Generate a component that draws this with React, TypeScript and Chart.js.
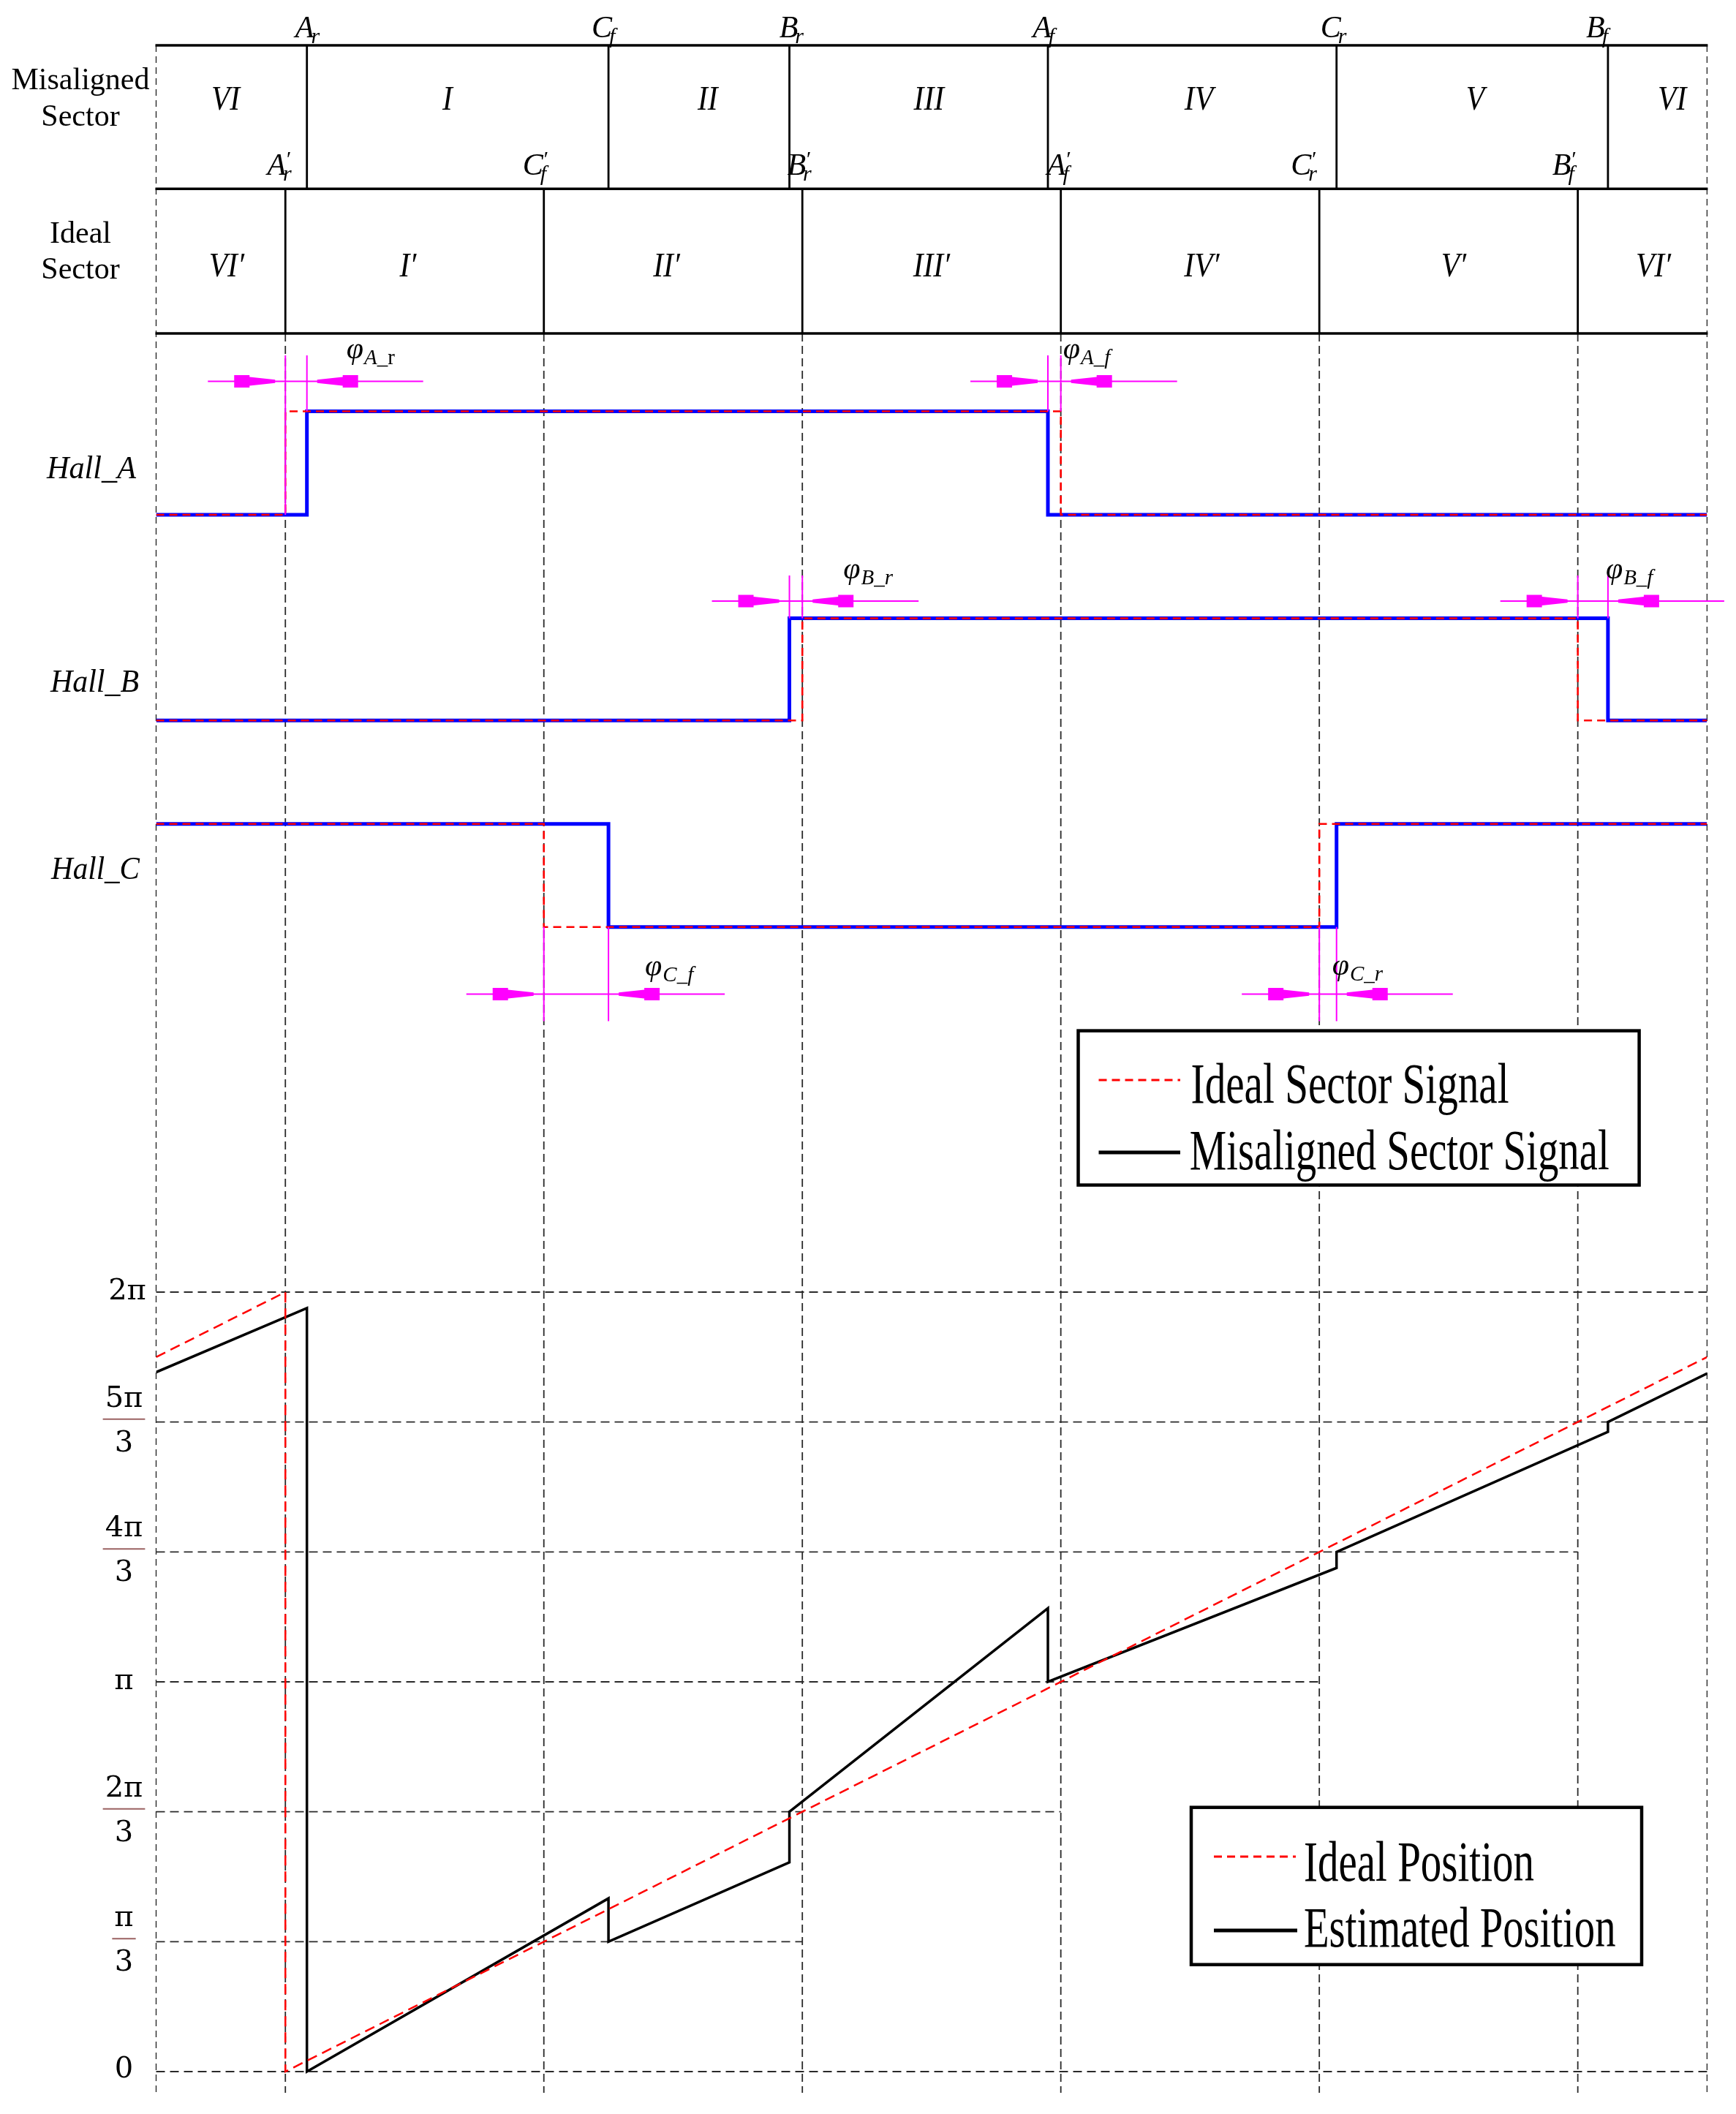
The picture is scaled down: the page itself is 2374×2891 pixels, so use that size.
import React, { useEffect, useRef } from 'react';
import { Chart, registerables } from 'chart.js';

Chart.register(...registerables);

const CANVAS_W = 2374;
const CANVAS_H = 2891;

// ---------------- data ----------------
const X_MIN = -30; // electrical angle (deg)
const X_MAX = 330;
const IDEAL_EDGES = [0, 60, 120, 180, 240, 300];
const MISALIGNED_EDGES = [5, 75, 117, 177, 244, 307];
const EDGE_LETTERS = ['A', 'C', 'B', 'A', 'C', 'B'];
const EDGE_SUBS = ['r', 'f', 'r', 'f', 'r', 'f'];
const MISALIGNED_SECTORS = ['VI', 'I', 'II', 'III', 'IV', 'V', 'VI'];
const IDEAL_SECTORS = ['VI′', 'I′', 'II′', 'III′', 'IV′', 'V′', 'VI′'];
const HALL_NAMES = ['Hall_A', 'Hall_B', 'Hall_C'];
const HALL_TOGGLES = [[0, 3], [2, 5], [1, 4]];
const HALL_INITIAL = [0, 0, 1];
const PHASE_HALL = [0, 0, 1, 1, 2, 2];
const PHASE_EDGE = [0, 3, 2, 5, 1, 4];
const PHASE_SUBS = ['A_r', 'A_f', 'B_r', 'B_f', 'C_f', 'C_r'];
const IDEAL_POS_X = [-30, 0, 0, 330];
const IDEAL_POS_Y = [330, 360, 0, 330];
const EST_POS_X = [-30, 5, 5, 75, 75, 117, 117, 177, 177, 244, 244, 307, 307, 330];
const EST_POS_Y = [323, 352.6, 0, 80, 60, 96.6, 120, 214, 180, 232.6, 240, 295.5, 300, 322.4];
const POS_TICKS = [0, 60, 120, 180, 240, 300, 360];
const POS_TICK_NUM = ['0', 'π', '2π', 'π', '4π', '5π', '2π'];
const POS_TICK_DEN = ['', '3', '3', '', '3', '3', ''];
const POS_GRID_END = [330, 120, 180, 240, 300, 330, 330];
const LEGEND_SECTOR = ['Ideal Sector Signal', 'Misaligned Sector Signal'];
const LEGEND_POSITION = ['Ideal Position', 'Estimated Position'];

// ---------------- layout (pixels) ----------------
const L = {
  left: 213.5,
  right: 2334.4,
  tableTop: 62,
  tableMid: 258.3,
  tableBottom: 456,
  gridBottom: 2862,
  lanes: [[704, 562.5], [985.3, 845.6], [1267.7, 1126.7]], // [low, high]
  pos0: 2833,
  pos360: 1767,
  headerX: 110,
  topNumBase: 150,
  botNumBase: 377.5,
  topNumNudge: [-8, -14, 12, 14, 9, 4, 20],
  botNumNudge: [8, -9, -9, 0, 16, 7, 15],
  edgeLabelBase: 51,
  edgeLabelNudge: [-3, -9, -1, -8, -8, -17],
  primeLabelBase: 239,
  primeLabelNudge: [-12, -15, -8, -6, -25, -22],
  hallLabelX: [125, 129.5, 130.5],
  hallLabelBase: [654, 946, 1201.7],
  hallLabelW: [122, 121, 121],
  annotLine: [521.5, 822, 1359.5],
  annotExt: [486, 787, 1396.5],
  annotLabelBase: [490, 490, 791, 791, 1334, 1333],
  annotLabelDx: [54, 3, 56, -3, 50, -6],
  tickCx: 169.5,
};

const SERIF = '"Liberation Serif", "Times New Roman", serif';
const MATH = '"DejaVu Serif", "Liberation Serif", serif';
const MAGENTA = '#ff00ff';

function axisRange(p0: number, p1: number, v0: number, v1: number) {
  const k = (p0 - p1) / (v1 - v0);
  const max = v0 + p0 / k;
  return { min: max - CANVAS_H / k, max };
}

function hallPoints(edges: number[], h: number) {
  let lvl = HALL_INITIAL[h];
  const pts = [{ x: X_MIN, y: lvl }];
  for (const i of HALL_TOGGLES[h]) {
    pts.push({ x: edges[i], y: lvl });
    lvl = 1 - lvl;
    pts.push({ x: edges[i], y: lvl });
  }
  pts.push({ x: X_MAX, y: lvl });
  return pts;
}

function seg(ctx: CanvasRenderingContext2D, x1: number, y1: number, x2: number, y2: number) {
  ctx.beginPath();
  ctx.moveTo(x1, y1);
  ctx.lineTo(x2, y2);
  ctx.stroke();
}

function drawText(
  ctx: CanvasRenderingContext2D,
  s: string,
  x: number,
  y: number,
  font: string,
  align: 'left' | 'center' | 'right' = 'left',
  fitW = 0,
  color = '#000',
  scaleX = 1
) {
  ctx.save();
  ctx.font = font;
  ctx.fillStyle = color;
  ctx.textAlign = 'left';
  ctx.textBaseline = 'alphabetic';
  const w = ctx.measureText(s).width;
  const sx = fitW ? fitW / w : scaleX;
  const tw = w * sx;
  const x0 = align === 'center' ? x - tw / 2 : align === 'right' ? x - tw : x;
  ctx.translate(x0, y);
  ctx.scale(sx, 1);
  ctx.fillText(s, 0, 0);
  ctx.restore();
}

function edgeLabel(ctx: CanvasRenderingContext2D, letter: string, sub: string, cx: number, base: number, prime: boolean) {
  ctx.save();
  ctx.fillStyle = '#000';
  ctx.textAlign = 'left';
  ctx.textBaseline = 'alphabetic';
  ctx.font = `italic 42px ${SERIF}`;
  const w = ctx.measureText(letter).width;
  const x0 = cx - w / 2;
  ctx.fillText(letter, x0, base);
  ctx.font = `italic 30px ${SERIF}`;
  if (prime) ctx.fillText('′', x0 + w - 1, base - 12);
  ctx.fillText(sub, x0 + w - 4, base + 8);
  ctx.restore();
}

function drawArrow(ctx: CanvasRenderingContext2D, tipX: number, y: number, dir: number) {
  const pts = [[-56, -8.5], [-35, -8.5], [-35, -6], [0, -2.2], [0, 2.2], [-35, 6], [-35, 8.5], [-56, 8.5]];
  ctx.beginPath();
  pts.forEach(([dx, dy], i) => {
    const X = tipX + dx * dir;
    if (i === 0) ctx.moveTo(X, y + dy);
    else ctx.lineTo(X, y + dy);
  });
  ctx.closePath();
  ctx.fill();
}

function legendBox(
  ctx: CanvasRenderingContext2D,
  box: number[],
  rows: { text: string; dashed: boolean; lineY: number; x1: number; x2: number; tx: number; base: number; w: number }[]
) {
  const [x1, y1, x2, y2] = box;
  ctx.save();
  ctx.fillStyle = '#fff';
  ctx.fillRect(x1, y1, x2 - x1, y2 - y1);
  ctx.strokeStyle = '#000';
  ctx.lineWidth = 4.5;
  ctx.setLineDash([]);
  ctx.strokeRect(x1, y1, x2 - x1, y2 - y1);
  for (const r of rows) {
    if (r.dashed) {
      ctx.strokeStyle = '#ff0000';
      ctx.lineWidth = 3;
      ctx.setLineDash([11, 7]);
    } else {
      ctx.strokeStyle = '#000';
      ctx.lineWidth = 5;
      ctx.setLineDash([]);
    }
    seg(ctx, r.x1, r.lineY, r.x2, r.lineY);
    ctx.setLineDash([]);
    drawText(ctx, r.text, r.tx, r.base, `78px ${SERIF}`, 'left', r.w);
  }
  ctx.restore();
}

const schematicPlugin = {
  id: 'schematic',
  beforeDraw(chart: any) {
    const c = chart.ctx;
    c.save();
    c.fillStyle = '#fff';
    c.fillRect(0, 0, chart.width, chart.height);
    c.restore();
  },
  beforeDatasetsDraw(chart: any) {
    const ctx: CanvasRenderingContext2D = chart.ctx;
    const xs = chart.scales.x;
    const yP = chart.scales.yP;
    const X = (v: number) => xs.getPixelForValue(v);
    const Y = (v: number) => yP.getPixelForValue(v);
    ctx.save();
    ctx.lineCap = 'butt';

    // dashed vertical grid
    ctx.strokeStyle = '#2a2a2a';
    ctx.lineWidth = 1.8;
    ctx.setLineDash([11, 6]);
    IDEAL_EDGES.forEach((e) => seg(ctx, X(e), L.tableBottom, X(e), L.gridBottom));
    ctx.lineWidth = 1.4;
    ctx.setLineDash([9, 6]);
    [X_MIN, X_MAX].forEach((e) => seg(ctx, X(e), L.tableTop, X(e), L.gridBottom));

    // dashed horizontal grid of the position plot
    ctx.lineWidth = 1.8;
    ctx.setLineDash([12, 7]);
    POS_TICKS.forEach((t, i) => seg(ctx, X(X_MIN), Y(t), X(POS_GRID_END[i]), Y(t)));
    ctx.setLineDash([]);

    // sector table
    ctx.strokeStyle = '#000';
    ctx.lineWidth = 3.5;
    [L.tableTop, L.tableMid, L.tableBottom].forEach((y) => seg(ctx, X(X_MIN) - 1, y, X(X_MAX) + 1, y));
    ctx.lineWidth = 2.8;
    MISALIGNED_EDGES.forEach((e) => seg(ctx, X(e), L.tableTop, X(e), L.tableMid));
    IDEAL_EDGES.forEach((e) => seg(ctx, X(e), L.tableMid, X(e), L.tableBottom));

    // row headers
    drawText(ctx, 'Misaligned', L.headerX, 121.7, `42px ${SERIF}`, 'center');
    drawText(ctx, 'Sector', L.headerX, 171.7, `42px ${SERIF}`, 'center');
    drawText(ctx, 'Ideal', L.headerX, 331.7, `42px ${SERIF}`, 'center');
    drawText(ctx, 'Sector', L.headerX, 381, `42px ${SERIF}`, 'center');

    // sector numerals
    const numFont = `italic 46px ${SERIF}`;
    const misB = [X_MIN, ...MISALIGNED_EDGES, X_MAX];
    MISALIGNED_SECTORS.forEach((s, i) => {
      const cx = (X(misB[i]) + X(misB[i + 1])) / 2 + L.topNumNudge[i];
      drawText(ctx, s, cx, L.topNumBase, numFont, 'center', 0, '#000', 0.9);
    });
    const idB = [X_MIN, ...IDEAL_EDGES, X_MAX];
    IDEAL_SECTORS.forEach((s, i) => {
      const cx = (X(idB[i]) + X(idB[i + 1])) / 2 + L.botNumNudge[i];
      drawText(ctx, s, cx, L.botNumBase, numFont, 'center', 0, '#000', 0.9);
    });

    // edge labels
    EDGE_LETTERS.forEach((letter, i) => {
      edgeLabel(ctx, letter, EDGE_SUBS[i], X(MISALIGNED_EDGES[i]) + L.edgeLabelNudge[i], L.edgeLabelBase, false);
      edgeLabel(ctx, letter, EDGE_SUBS[i], X(IDEAL_EDGES[i]) + L.primeLabelNudge[i], L.primeLabelBase, true);
    });

    // hall labels
    HALL_NAMES.forEach((n, i) =>
      drawText(ctx, n, L.hallLabelX[i], L.hallLabelBase[i], `italic 45px ${SERIF}`, 'center', L.hallLabelW[i])
    );

    // position tick labels
    const tf = `40px ${MATH}`;
    POS_TICKS.forEach((t, i) => {
      const y = Y(t);
      const num = POS_TICK_NUM[i];
      if (POS_TICK_DEN[i]) {
        const bar = y - 4;
        ctx.font = tf;
        const w = ctx.measureText(num).width;
        drawText(ctx, num, L.tickCx, bar - 17, tf, 'center');
        drawText(ctx, POS_TICK_DEN[i], L.tickCx, bar + 44, tf, 'center');
        ctx.strokeStyle = '#9a6262';
        ctx.lineWidth = 2;
        seg(ctx, L.tickCx - w / 2 - 3, bar, L.tickCx + w / 2 + 3, bar);
      } else {
        const dx = i === POS_TICKS.length - 1 ? 4.5 : 0;
        drawText(ctx, num, L.tickCx + dx, y + (t === 0 ? 8 : 10), tf, 'center');
      }
    });
    ctx.restore();
  },
  afterDatasetsDraw(chart: any) {
    const ctx: CanvasRenderingContext2D = chart.ctx;
    const xs = chart.scales.x;
    const X = (v: number) => xs.getPixelForValue(v);
    ctx.save();
    ctx.lineCap = 'butt';
    ctx.setLineDash([]);

    // phase-offset annotations
    PHASE_SUBS.forEach((sub, i) => {
      const h = PHASE_HALL[i];
      const e = PHASE_EDGE[i];
      const lane = chart.scales['y' + h];
      const xi = X(IDEAL_EDGES[e]);
      const xm = X(MISALIGNED_EDGES[e]);
      const lo = Math.min(xi, xm);
      const hi = Math.max(xi, xm);
      const ly = L.annotLine[h];
      const ext = L.annotExt[h];
      const yNear = lane.getPixelForValue(h === 2 ? 0 : 1);
      ctx.strokeStyle = MAGENTA;
      ctx.fillStyle = MAGENTA;
      ctx.lineWidth = 2;
      seg(ctx, lo - 106, ly, hi + 159, ly);
      seg(ctx, xm, ext, xm, yNear);
      seg(ctx, xi, ext, xi, i === 0 ? lane.getPixelForValue(0) : yNear);
      drawArrow(ctx, lo - 14, ly, 1);
      drawArrow(ctx, hi + 14, ly, -1);

      const lx = hi + L.annotLabelDx[i];
      const lb = L.annotLabelBase[i];
      ctx.fillStyle = '#000';
      ctx.textAlign = 'left';
      ctx.textBaseline = 'alphabetic';
      ctx.font = `italic 42px ${SERIF}`;
      ctx.fillText('φ', lx, lb);
      let sx = lx + ctx.measureText('φ').width + 1;
      const parts = i === 0 ? [['A_', true], ['r', false]] : [[sub, true]];
      for (const [txt, ital] of parts as [string, boolean][]) {
        ctx.font = `${ital ? 'italic ' : ''}29px ${SERIF}`;
        ctx.fillText(txt, sx, lb + 8);
        sx += ctx.measureText(txt).width;
      }
    });

    // legends
    legendBox(ctx, [1474.5, 1409.6, 2241.6, 1620.6], [
      { text: LEGEND_SECTOR[0], dashed: true, lineY: 1477, x1: 1502.5, x2: 1614, tx: 1628.6, base: 1508, w: 435 },
      { text: LEGEND_SECTOR[1], dashed: false, lineY: 1576, x1: 1502.5, x2: 1614, tx: 1626.7, base: 1599, w: 574 },
    ]);
    legendBox(ctx, [1629, 2471.7, 2245, 2686.7], [
      { text: LEGEND_POSITION[0], dashed: true, lineY: 2539, x1: 1660, x2: 1772, tx: 1783, base: 2571.7, w: 315 },
      { text: LEGEND_POSITION[1], dashed: false, lineY: 2640, x1: 1660, x2: 1774, tx: 1783, base: 2661.7, w: 426.5 },
    ]);
    ctx.restore();
  },
};

export default function App() {
  const ref = useRef<HTMLCanvasElement | null>(null);

  useEffect(() => {
    document.body.style.margin = '0';
    const canvas = ref.current;
    if (!canvas) return;

    const common = { pointRadius: 0, fill: false, tension: 0, borderCapStyle: 'butt', borderJoinStyle: 'miter' };
    const datasets: any[] = [];
    HALL_NAMES.forEach((name, h) => {
      datasets.push({
        ...common,
        label: name + ' misaligned',
        data: hallPoints(MISALIGNED_EDGES, h),
        yAxisID: 'y' + h,
        borderColor: '#0000ff',
        borderWidth: 5,
        order: 4,
      });
      datasets.push({
        ...common,
        label: name + ' ideal',
        data: hallPoints(IDEAL_EDGES, h),
        yAxisID: 'y' + h,
        borderColor: '#ff0000',
        borderWidth: 2.6,
        borderDash: [11, 7],
        order: 3,
      });
    });
    datasets.push({
      ...common,
      label: 'Estimated Position',
      data: EST_POS_X.map((x, i) => ({ x, y: EST_POS_Y[i] })),
      yAxisID: 'yP',
      borderColor: '#000',
      borderWidth: 3.5,
      order: 2,
    });
    datasets.push({
      ...common,
      label: 'Ideal Position',
      data: IDEAL_POS_X.map((x, i) => ({ x, y: IDEAL_POS_Y[i] })),
      yAxisID: 'yP',
      borderColor: '#ff0000',
      borderWidth: 2.5,
      borderDash: [14, 8],
      order: 1,
    });

    const scales: any = {
      x: { type: 'linear', min: X_MIN, max: X_MAX, display: false },
      yP: { type: 'linear', display: false, ...axisRange(L.pos0, L.pos360, 0, 360) },
    };
    L.lanes.forEach(([lo, hi], h) => {
      scales['y' + h] = { type: 'linear', display: false, ...axisRange(lo, hi, 0, 1) };
    });

    const chart = new Chart(canvas, {
      type: 'line',
      data: { datasets },
      options: {
        animation: false,
        responsive: false,
        devicePixelRatio: 1,
        events: [],
        layout: { padding: { left: L.left, right: CANVAS_W - L.right, top: 0, bottom: 0 } },
        plugins: { legend: { display: false }, tooltip: { enabled: false } },
        scales,
      },
      plugins: [schematicPlugin],
    } as any);

    return () => chart.destroy();
  }, []);

  return (
    <canvas
      ref={ref}
      width={CANVAS_W}
      height={CANVAS_H}
      style={{ position: 'absolute', left: 0, top: 0, width: CANVAS_W, height: CANVAS_H }}
    />
  );
}
